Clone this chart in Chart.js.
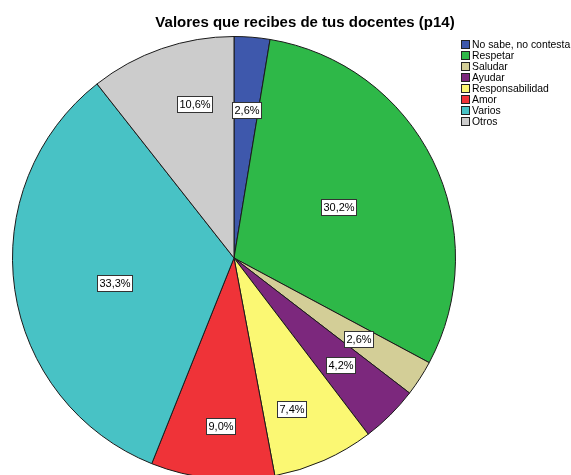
<!DOCTYPE html>
<html>
<head>
<meta charset="utf-8">
<script src="https://cdn.jsdelivr.net/npm/chart.js@4"></script>
<style>
  html, body { margin: 0; padding: 0; background: #fff; overflow: hidden; }
  #wrap { width: 571px; height: 475px; overflow: hidden; }
</style>
</head>
<body>
<div id="wrap"><canvas id="chart" width="571" height="482"></canvas></div>
<script>
const categories = ['No sabe, no contesta', 'Respetar', 'Saludar', 'Ayudar', 'Responsabilidad', 'Amor', 'Varios', 'Otros'];
const percents = [2.6, 30.2, 2.6, 4.2, 7.4, 9.0, 33.3, 10.6];
const colors = ['#3E58AC', '#2EB848', '#D3CE97', '#7C287D', '#FBF873', '#EF3338', '#48C2C5', '#CCCCCC'];
// label placement: share of radius, and a small turn (degrees) from the slice middle
const labelRadius = [0.67, 0.525, 0.67, 0.68, 0.73, 0.76, 0.55, 0.72];
const labelTurn = [0, 0, 0, 0, 3, -1, -3.8, 4.7];
const title = 'Valores que recibes de tus docentes (p14)';

const FONT = '"Liberation Sans", Arial, sans-serif';

const extras = {
  id: 'extras',
  afterDatasetsDraw(chart) {
    const ctx = chart.ctx;
    const arcs = chart.getDatasetMeta(0).data;
    ctx.save();
    ctx.font = '11px ' + FONT;
    ctx.textAlign = 'center';
    ctx.textBaseline = 'middle';
    arcs.forEach((arc, i) => {
      const p = arc.getProps(['x', 'y', 'startAngle', 'endAngle', 'outerRadius'], true);
      const mid = (p.startAngle + p.endAngle) / 2 + labelTurn[i] * Math.PI / 180;
      const r = p.outerRadius * labelRadius[i];
      const cx = p.x + Math.cos(mid) * r;
      const cy = p.y + Math.sin(mid) * r;
      const txt = percents[i].toFixed(1).replace('.', ',') + '%';
      const w = Math.round(ctx.measureText(txt).width + 4);
      const h = 16;
      const bx = Math.round(cx - w / 2) + 0.5, by = Math.round(cy - h / 2) + 0.5;
      ctx.fillStyle = '#fff';
      ctx.fillRect(bx, by, w, h);
      ctx.strokeStyle = '#333';
      ctx.lineWidth = 1;
      ctx.strokeRect(bx, by, w, h);
      ctx.fillStyle = '#000';
      ctx.fillText(txt, bx + w / 2, by + h / 2 + 0.5);
    });

    // title
    ctx.font = 'bold 15px ' + FONT;
    ctx.textBaseline = 'alphabetic';
    ctx.textAlign = 'center';
    ctx.fillText(title, 305, 27);

    // legend
    ctx.font = '10.4px ' + FONT;
    ctx.textAlign = 'left';
    ctx.textBaseline = 'middle';
    categories.forEach((c, i) => {
      const y = 45 + i * 11;
      ctx.fillStyle = colors[i];
      ctx.fillRect(461.5, y - 4.5, 8, 8);
      ctx.strokeStyle = '#222';
      ctx.strokeRect(461.5, y - 4.5, 8, 8);
      ctx.fillStyle = '#000';
      ctx.fillText(c, 472, y);
    });
    ctx.restore();
  }
};

new Chart(document.getElementById('chart'), {
  type: 'pie',
  data: {
    labels: categories,
    datasets: [{
      data: percents,
      backgroundColor: colors,
      borderColor: '#1a1a1a',
      borderWidth: 1
    }]
  },
  options: {
    responsive: false,
    animation: false,
    events: [],
    layout: { padding: { left: 12, right: 115, top: 36, bottom: 2 } },
    plugins: {
      legend: { display: false },
      tooltip: { enabled: false },
      title: { display: false }
    }
  },
  plugins: [extras]
});
</script>
</body>
</html>
